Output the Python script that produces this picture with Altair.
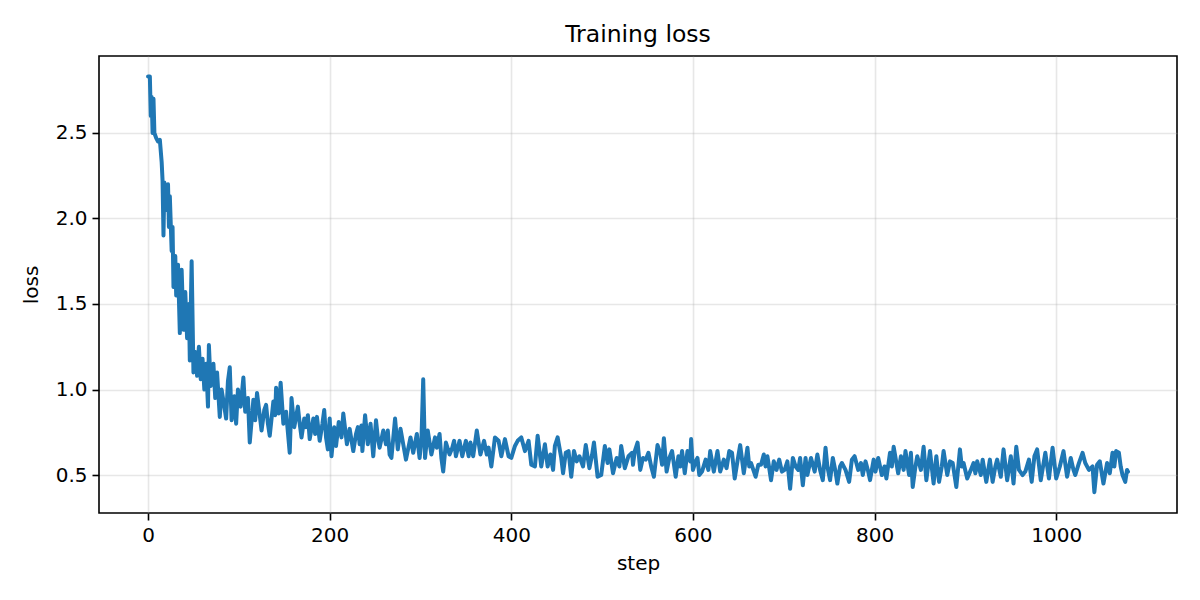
import altair as alt
import pandas as pd

# loss readings taken off the reference curve
steps = [
    0, 2, 3, 4, 5, 6, 7, 9, 11, 13, 15, 16, 17, 18, 20, 22, 23, 24, 26, 27,
    28, 30, 31, 33, 35, 37, 39, 41, 43, 45, 46, 48, 50, 52, 54, 56, 58, 60, 62, 64,
    66, 67, 69, 72, 74, 76, 79, 81, 84, 86, 88, 90, 92, 95, 97, 99, 102, 105, 107, 110,
    112, 116, 118, 120, 123, 125, 128, 130, 132, 134, 138, 140, 141, 144, 146, 149, 152, 154, 156, 158,
    161, 165, 167, 169, 172, 174, 176, 178, 182, 184, 186, 189, 192, 194, 196, 198, 200, 202, 205, 207,
    210, 213, 215, 219, 222, 226, 229, 231, 233, 235, 236, 239, 242, 245, 248, 251, 253, 255, 259, 262,
    264, 266, 268, 272, 275, 278, 281, 284, 289, 292, 296, 299, 301, 303, 305, 308, 312, 316, 318, 321,
    323, 325, 328, 332, 335, 337, 339, 343, 346, 350, 353, 355, 358, 362, 366, 370, 373, 375, 378, 382,
    386, 389, 393, 397, 400, 404, 407, 411, 415, 419, 422, 426, 429, 433, 437, 440, 443, 446, 448, 451,
    455, 457, 460, 463, 466, 469, 472, 475, 479, 482, 486, 489, 491, 495, 499, 503, 506, 508, 512, 516,
    519, 521, 525, 529, 533, 534, 536, 539, 542, 545, 548, 551, 554, 557, 561, 564, 566, 568, 571, 574,
    577, 581, 584, 586, 588, 591, 594, 597, 598, 600, 603, 605, 607, 610, 614, 617, 619, 623, 627, 630,
    634, 637, 640, 643, 646, 649, 652, 656, 660, 662, 664, 669, 672, 675, 678, 680, 682, 686, 689, 692,
    695, 698, 701, 704, 707, 710, 713, 716, 718, 721, 724, 726, 730, 734, 737, 740, 743, 746, 748, 751,
    754, 757, 759, 762, 764, 768, 772, 775, 778, 782, 785, 787, 790, 793, 795, 799, 801, 804, 808, 811,
    813, 817, 819, 821, 826, 829, 832, 834, 838, 840, 842, 845, 847, 851, 854, 857, 861, 865, 868, 871,
    874, 876, 880, 883, 886, 890, 894, 896, 898, 902, 906, 909, 911, 913, 917, 919, 923, 927, 930, 933,
    935, 939, 942, 946, 950, 953, 956, 959, 963, 966, 970, 973, 976, 979, 983, 988, 992, 996, 1000, 1004,
    1008, 1012, 1016, 1019, 1021, 1025, 1029, 1032, 1036, 1040, 1042, 1045, 1048, 1052, 1056, 1059, 1062, 1064, 1066, 1069,
    1071, 1073, 1076, 1078, 1079,
]
loss = [
    2.83, 2.83, 2.60, 2.71, 2.50, 2.70, 2.50, 2.47, 2.45, 2.46, 2.33, 2.22, 1.90, 2.21, 2.05, 2.20, 1.95, 2.13, 1.81, 1.95,
    1.60, 1.78, 1.55, 1.73, 1.33, 1.70, 1.35, 1.57, 1.30, 1.50, 1.17, 1.75, 1.10, 1.22, 1.08, 1.25, 1.06, 1.18, 1.00, 1.15,
    0.90, 1.26, 1.02, 1.15, 0.95, 1.10, 0.84, 1.00, 0.90, 0.83, 1.05, 1.13, 0.82, 0.96, 0.80, 1.00, 0.90, 1.07, 0.87, 0.95,
    0.69, 0.94, 0.82, 0.98, 0.85, 0.76, 0.88, 0.91, 0.80, 0.73, 0.93, 0.85, 1.01, 0.86, 1.04, 0.80, 0.87, 0.75, 0.63, 0.95,
    0.78, 0.90, 0.80, 0.72, 0.83, 0.78, 0.85, 0.71, 0.83, 0.74, 0.84, 0.70, 0.80, 0.88, 0.72, 0.65, 0.83, 0.61, 0.78, 0.67,
    0.81, 0.72, 0.86, 0.68, 0.77, 0.64, 0.74, 0.78, 0.68, 0.79, 0.64, 0.85, 0.68, 0.80, 0.61, 0.82, 0.72, 0.66, 0.76, 0.68,
    0.76, 0.62, 0.60, 0.83, 0.65, 0.77, 0.68, 0.59, 0.72, 0.63, 0.74, 0.60, 0.70, 1.06, 0.60, 0.76, 0.62, 0.72, 0.66, 0.74,
    0.60, 0.52, 0.69, 0.62, 0.66, 0.70, 0.61, 0.70, 0.61, 0.70, 0.61, 0.69, 0.61, 0.76, 0.62, 0.70, 0.62, 0.66, 0.55, 0.72,
    0.70, 0.61, 0.71, 0.61, 0.60, 0.67, 0.70, 0.72, 0.64, 0.70, 0.56, 0.55, 0.73, 0.55, 0.68, 0.55, 0.62, 0.53, 0.67, 0.72,
    0.60, 0.51, 0.63, 0.64, 0.49, 0.64, 0.58, 0.61, 0.55, 0.675, 0.54, 0.62, 0.69, 0.49, 0.50, 0.67, 0.57, 0.65, 0.51, 0.60,
    0.55, 0.67, 0.54, 0.61, 0.63, 0.56, 0.64, 0.69, 0.53, 0.60, 0.59, 0.63, 0.55, 0.49, 0.675, 0.63, 0.56, 0.715, 0.52, 0.60,
    0.64, 0.49, 0.61, 0.55, 0.64, 0.51, 0.64, 0.58, 0.71, 0.53, 0.58, 0.60, 0.50, 0.52, 0.59, 0.53, 0.64, 0.52, 0.64, 0.52,
    0.59, 0.54, 0.64, 0.63, 0.48, 0.58, 0.675, 0.51, 0.66, 0.55, 0.57, 0.49, 0.56, 0.56, 0.62, 0.55, 0.61, 0.47, 0.58, 0.53,
    0.59, 0.52, 0.53, 0.58, 0.42, 0.60, 0.55, 0.53, 0.60, 0.44, 0.60, 0.50, 0.60, 0.52, 0.62, 0.53, 0.47, 0.66, 0.55, 0.47,
    0.60, 0.52, 0.45, 0.55, 0.57, 0.53, 0.46, 0.59, 0.61, 0.53, 0.57, 0.50, 0.58, 0.52, 0.47, 0.59, 0.52, 0.60, 0.50, 0.55,
    0.48, 0.63, 0.55, 0.665, 0.51, 0.61, 0.53, 0.64, 0.50, 0.63, 0.43, 0.55, 0.61, 0.53, 0.665, 0.47, 0.64, 0.45, 0.61, 0.46,
    0.55, 0.64, 0.50, 0.58, 0.57, 0.43, 0.65, 0.55, 0.57, 0.48, 0.53, 0.57, 0.51, 0.58, 0.50, 0.59, 0.46, 0.59, 0.46, 0.55,
    0.59, 0.49, 0.65, 0.47, 0.61, 0.45, 0.665, 0.53, 0.50, 0.52, 0.59, 0.46, 0.61, 0.65, 0.47, 0.63, 0.48, 0.66, 0.48, 0.55,
    0.64, 0.49, 0.60, 0.53, 0.50, 0.57, 0.63, 0.57, 0.53, 0.55, 0.40, 0.56, 0.58, 0.45, 0.57, 0.51, 0.63, 0.55, 0.64, 0.63,
    0.55, 0.50, 0.46, 0.53, 0.52,
]
assert len(steps) == len(loss), (len(steps), len(loss))

x_ticks = [0, 200, 400, 600, 800, 1000]
y_ticks = [0.5, 1.0, 1.5, 2.0, 2.5]

df = pd.DataFrame({"step": steps, "loss": loss})

font = "DejaVu Sans"

chart = alt.Chart(df).mark_line(
    color="#1f77b4",
    strokeWidth=4,
    strokeJoin="round",
    strokeCap="round",
    clip=True
).encode(
    alt.X("step:Q")
        .scale(domain=[-54, 1133], nice=False, zero=False)
        .axis(values=x_ticks, format="d", title="step"),
    alt.Y("loss:Q")
        .scale(domain=[0.278, 2.95], nice=False, zero=False)
        .axis(values=y_ticks, format=".1f", title="loss"),
).properties(
    width=1078,
    height=457,
    padding={"left": 91, "top": 48, "right": 15, "bottom": 79},
    autosize=alt.AutoSizeParams(type="none"),
    title=alt.Title("Training loss", fontSize=23.5, fontWeight="normal", font=font,
                    offset=10, color="black"),
).configure_axis(
    labelFont=font,
    labelFontSize=20,
    labelColor="black",
    titleFont=font,
    titleFontSize=20,
    titleFontWeight="normal",
    titleColor="black",
    domain=False,
    tickColor="black",
    tickSize=7,
    tickWidth=1.6,
    grid=True,
    gridColor="#b0b0b0",
    gridOpacity=0.3,
    gridWidth=1.6,
    labelPadding=5,
).configure_axisX(
    titlePadding=8,
).configure_axisY(
    titlePadding=14,
).configure_view(
    stroke="black",
    strokeWidth=1.6,
)

chart.save("out.html", embed_options={"renderer": "svg", "actions": False})
